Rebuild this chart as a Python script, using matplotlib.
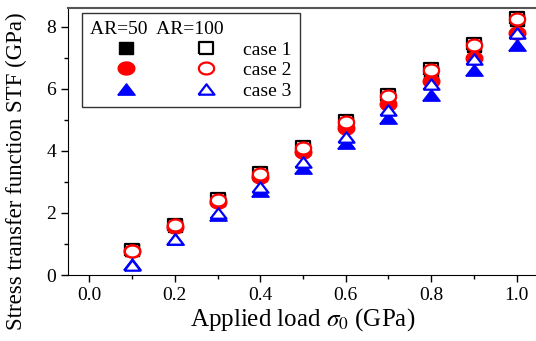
import numpy as np
import matplotlib
matplotlib.use("Agg")
import matplotlib.pyplot as plt
from matplotlib.ticker import MultipleLocator, FormatStrFormatter

plt.rcParams['font.family'] = ['Liberation Serif', 'DejaVu Serif']
plt.rcParams['mathtext.fontset'] = 'stix'

# applied load (GPa)
load = [0.1, 0.2, 0.3, 0.4, 0.5, 0.6, 0.7, 0.8, 0.9, 1.0]

# AR=50 (filled)
case1_ar50 = [0.80, 1.58, 2.40, 3.22, 4.05, 4.88, 5.72, 6.55, 7.38, 8.22]
case2_ar50 = [0.78, 1.55, 2.35, 3.15, 3.95, 4.72, 5.50, 6.25, 7.00, 7.80]
case3_ar50 = [0.35, 1.15, 1.93, 2.70, 3.45, 4.25, 5.05, 5.80, 6.60, 7.40]

# AR=100 (open)
case1_ar100 = [0.81, 1.62, 2.45, 3.28, 4.13, 4.95, 5.80, 6.62, 7.45, 8.28]
case2_ar100 = [0.78, 1.60, 2.43, 3.25, 4.10, 4.92, 5.77, 6.60, 7.42, 8.26]
case3_ar100 = [0.33, 1.15, 2.00, 2.85, 3.65, 4.45, 5.30, 6.15, 6.95, 7.80]

labels = ['case 1', 'case 2', 'case 3']

# slightly flattened markers, like in the original figure
t = np.linspace(0, 2*np.pi, 41)
ell = list(zip(np.cos(t), 0.78*np.sin(t)))
sq = [(-1, -0.85), (1, -0.85), (1, 0.85), (-1, 0.85), (-1, -0.85)]
tri = [(-1, -0.65), (1, -0.65), (0, 0.65), (-1, -0.65)]

fig = plt.figure(figsize=(5.36, 3.41), dpi=100)
ax = fig.add_axes([68/536, 1-275/341, 470/536, 267/341])

mew = 1.6
h1, = ax.plot(load, case1_ar50, marker=sq, color='black', ms=9.5, linestyle='none')
h2, = ax.plot(load, case1_ar100, marker=sq, mfc='white', mec='black', ms=9.5, mew=mew, linestyle='none')
h3, = ax.plot(load, case2_ar50, marker=ell, color='red', ms=12, linestyle='none')
h4, = ax.plot(load, case2_ar100, marker=ell, mfc='white', mec='red', ms=11, mew=mew, linestyle='none')
h5, = ax.plot(load, case3_ar50, marker=tri, color='blue', ms=12.5, linestyle='none')
h6, = ax.plot(load, case3_ar100, marker=tri, mfc='white', mec='blue', ms=11.5, mew=mew, linestyle='none')

ax.set_xlim(-0.05, 1.05)
ax.set_ylim(0, 8.6)
ax.xaxis.set_major_locator(MultipleLocator(0.2))
ax.xaxis.set_minor_locator(MultipleLocator(0.1))
ax.yaxis.set_major_locator(MultipleLocator(2))
ax.yaxis.set_minor_locator(MultipleLocator(1))
ax.xaxis.set_major_formatter(FormatStrFormatter('%.1f'))
ax.tick_params(which='major', direction='out', length=5, width=1, labelsize=14, top=False, right=False)
ax.tick_params(which='minor', direction='out', length=3, width=1, top=False, right=False)
ax.spines['right'].set_visible(False)
ax.spines['top'].set_color('#555555')
ax.spines['top'].set_linewidth(1.5)

ax.set_xlabel(r'Applied load $\sigma_0$ (GPa)', fontsize=18, labelpad=2)
ax.set_ylabel('Stress transfer function STF (GPa)', fontsize=16.5)
ax.yaxis.set_label_coords(-0.088, 0.39)

leg = ax.legend([h1, h3, h5, h2, h4, h6], ['', '', ''] + labels, ncol=2,
                loc='upper left', bbox_to_anchor=(0.03, 0.98), borderaxespad=0,
                title='AR=50  AR=100', title_fontsize=14, fontsize=14,
                frameon=True, fancybox=False, edgecolor='black',
                handlelength=3.7, handletextpad=0.1, columnspacing=0.3,
                labelspacing=0.15, borderpad=0.4)
leg.get_frame().set_linewidth(1.0)
leg._legend_box.align = 'left'

fig.savefig('out.png', dpi=100)
